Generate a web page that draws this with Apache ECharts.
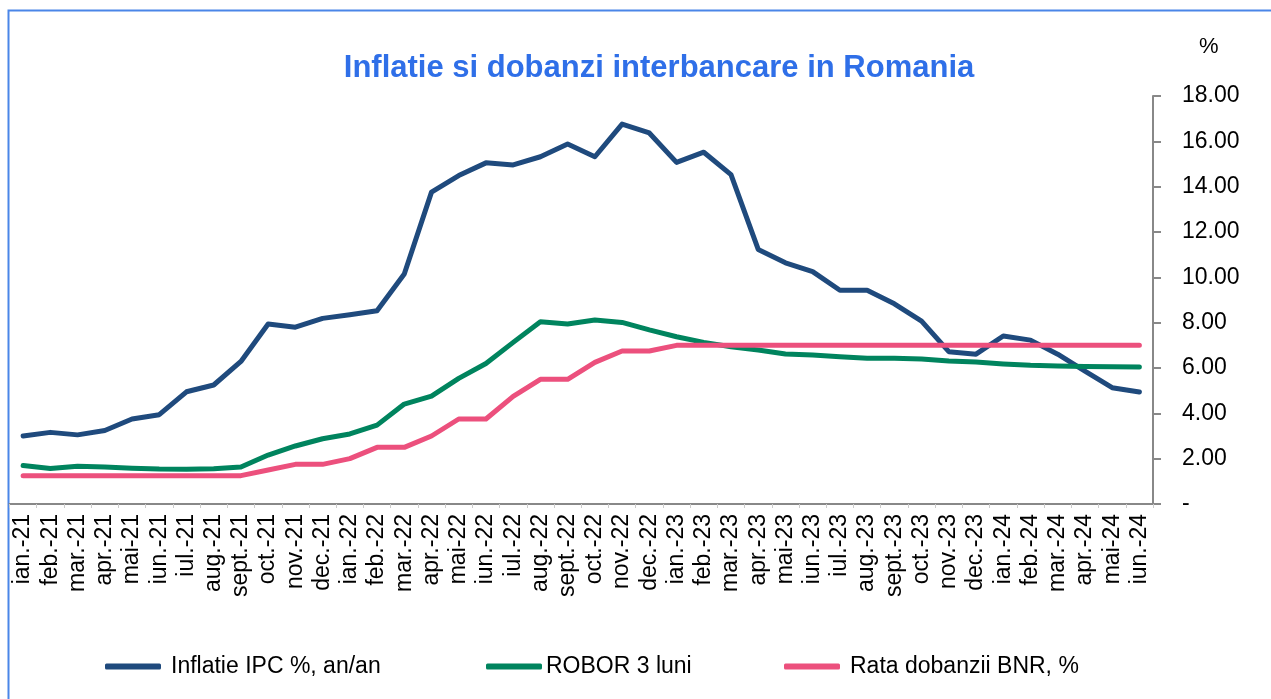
<!DOCTYPE html>
<html>
<head>
<meta charset="utf-8">
<script src="https://cdn.jsdelivr.net/npm/echarts@6/dist/echarts.min.js"></script>
<style>
  html, body { margin: 0; padding: 0; background: #fff; }
  #chart { width: 1271px; height: 699px; }
</style>
</head>
<body>
<div id="chart"></div>
<script>
  var months = ['ian.-21', 'feb.-21', 'mar.-21', 'apr.-21', 'mai-21', 'iun.-21', 'iul.-21', 'aug.-21', 'sept.-21', 'oct.-21', 'nov.-21', 'dec.-21',
    'ian.-22', 'feb.-22', 'mar.-22', 'apr.-22', 'mai-22', 'iun.-22', 'iul.-22', 'aug.-22', 'sept.-22', 'oct.-22', 'nov.-22', 'dec.-22',
    'ian.-23', 'feb.-23', 'mar.-23', 'apr.-23', 'mai-23', 'iun.-23', 'iul.-23', 'aug.-23', 'sept.-23', 'oct.-23', 'nov.-23', 'dec.-23',
    'ian.-24', 'feb.-24', 'mar.-24', 'apr.-24', 'mai-24', 'iun.-24']

  // inflatie IPC %, an/an
  var inflatie = [3.00, 3.16, 3.05, 3.24, 3.75, 3.94, 4.95, 5.25, 6.29, 7.94, 7.80, 8.19,
    8.35, 8.53, 10.15, 13.76, 14.49, 15.05, 14.96, 15.32, 15.88, 15.32, 16.76, 16.37,
    15.07, 15.52, 14.53, 11.23, 10.64, 10.25, 9.43, 9.43, 8.83, 8.07, 6.72, 6.61,
    7.41, 7.23, 6.61, 5.86, 5.13, 4.94]

  // ROBOR 3 luni
  var robor = [1.70, 1.57, 1.67, 1.63, 1.58, 1.54, 1.53, 1.55, 1.63, 2.16, 2.56, 2.88,
    3.09, 3.48, 4.41, 4.76, 5.54, 6.20, 7.13, 8.04, 7.94, 8.12, 8.01, 7.68,
    7.38, 7.13, 6.94, 6.79, 6.62, 6.57, 6.50, 6.43, 6.43, 6.40, 6.31, 6.26,
    6.18, 6.12, 6.09, 6.07, 6.06, 6.04]

  // rata dobanzii BNR
  var bnr = [1.25, 1.25, 1.25, 1.25, 1.25, 1.25, 1.25, 1.25, 1.25, 1.50, 1.75, 1.75,
    2.00, 2.50, 2.50, 3.00, 3.75, 3.75, 4.75, 5.50, 5.50, 6.25, 6.75, 6.75,
    7.00, 7.00, 7.00, 7.00, 7.00, 7.00, 7.00, 7.00, 7.00, 7.00, 7.00, 7.00,
    7.00, 7.00, 7.00, 7.00, 7.00, 7.00]

  var names = ['Inflatie IPC %, an/an', 'ROBOR 3 luni', 'Rata dobanzii BNR, %']
  var colors = ['#1F4A7D', '#00845E', '#EC507D']
  var font = '"Liberation Sans", Arial, sans-serif'

  var myChart = echarts.init(document.getElementById('chart'))

  function legendAt(i, left, textGap) {
    return {
      data: [names[i]],
      left: left,
      top: 650,
      icon: 'roundRect',
      itemWidth: 56,
      itemHeight: 6,
      itemGap: 0,
      selectedMode: false,
      textStyle: { fontFamily: font, fontSize: 23, color: '#000', padding: [0, 0, 0, textGap] }
    }
  }

  var option = {
    animation: false,
    color: colors,
    title: {
      text: 'Inflatie si dobanzi interbancare in Romania',
      left: 654,
      textAlign: 'center',
      top: 48,
      textStyle: { fontFamily: font, fontSize: 31, fontWeight: 'bold', color: '#2F6FE8' }
    },
    graphic: [
      {
        type: 'rect',
        shape: { x: 8.5, y: 10.5, width: 1400, height: 900 },
        style: { fill: 'none', stroke: '#4A86E8', lineWidth: 2 },
        silent: true
      },
      {
        type: 'text',
        left: 1199,
        top: 36,
        style: { text: '%', fontFamily: font, fontSize: 22, fill: '#000' }
      }
    ],
    legend: [legendAt(0, 100, 5), legendAt(1, 481, -1), legendAt(2, 779, 5)],
    grid: { left: 9.5, right: 118, top: 96, bottom: 195 },
    xAxis: {
      type: 'category',
      data: months,
      boundaryGap: true,
      axisLine: { lineStyle: { color: '#888', width: 2 } },
      axisTick: { show: true, length: 4, lineStyle: { color: '#ccc' } },
      axisLabel: {
        rotate: 90,
        interval: 0,
        margin: 10,
        fontFamily: font,
        fontSize: 23,
        color: '#000'
      }
    },
    yAxis: {
      type: 'value',
      position: 'right',
      min: 0,
      max: 18,
      interval: 2,
      axisLine: { show: true, lineStyle: { color: '#888', width: 2 } },
      axisTick: { show: true, inside: false, length: 8, lineStyle: { color: '#888', width: 2 } },
      splitLine: { show: false },
      axisLabel: {
        margin: 29,
        align: 'left',
        fontFamily: font,
        fontSize: 23,
        color: '#000',
        formatter: function (v) {
          return v === 0 ? '-' : v.toFixed(2)
        }
      }
    },
    series: [
      {
        name: names[0],
        type: 'line',
        data: inflatie,
        symbol: 'none',
        lineStyle: { width: 5, cap: 'round', join: 'round' }
      },
      {
        name: names[1],
        type: 'line',
        data: robor,
        symbol: 'none',
        lineStyle: { width: 5, cap: 'round', join: 'round' }
      },
      {
        name: names[2],
        type: 'line',
        data: bnr,
        symbol: 'none',
        lineStyle: { width: 5, cap: 'round', join: 'round' }
      }
    ]
  }
  myChart.setOption(option)
</script>
</body>
</html>
